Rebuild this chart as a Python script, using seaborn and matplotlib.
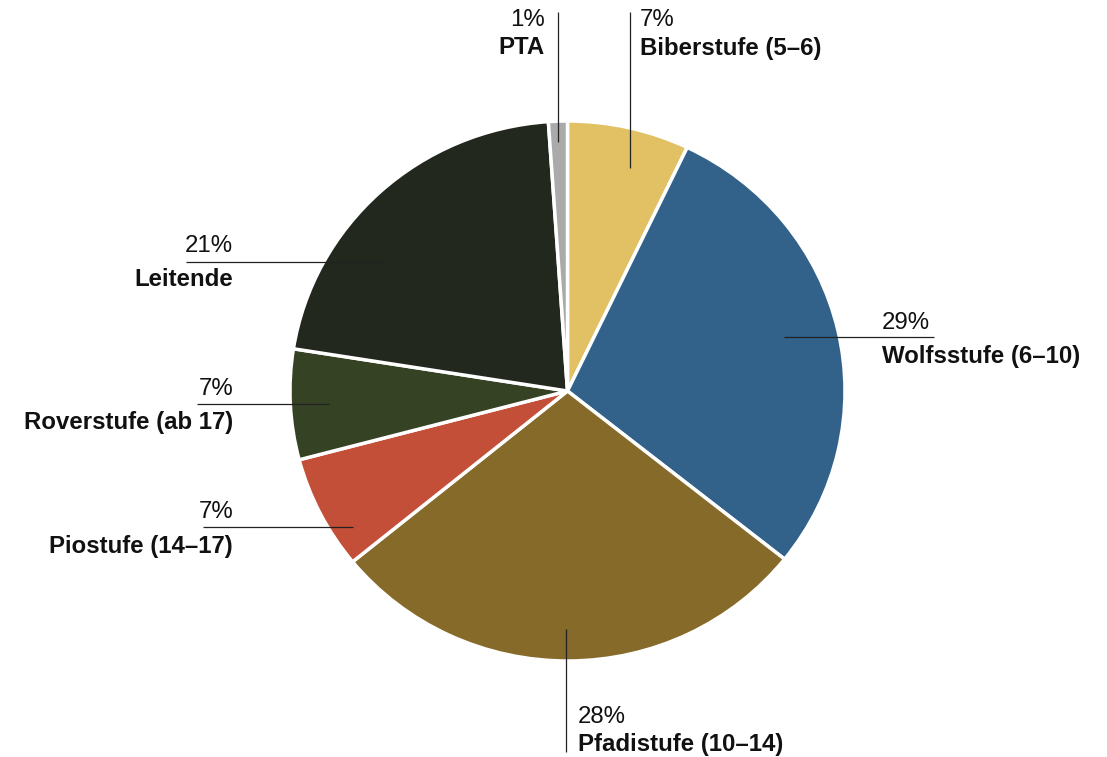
import matplotlib
matplotlib.use("Agg")
import matplotlib.pyplot as plt
import seaborn as sns

sns.set_theme(style="white")
plt.rcParams['font.family'] = ['Liberation Sans', 'DejaVu Sans']

categories = ["Biberstufe (5–6)", "Wolfsstufe (6–10)", "Pfadistufe (10–14)",
              "Piostufe (14–17)", "Roverstufe (ab 17)", "Leitende", "PTA"]
values = [7.1, 28.6, 28.4, 6.8, 6.6, 21.4, 1.1]
pct_labels = ["7%", "29%", "28%", "7%", "7%", "21%", "1%"]
colors = ["#E2C064", "#326289", "#866A2A", "#C44F38", "#354224", "#22281E", "#AAAAAA"]

W, H = 1107, 757
fig = plt.figure(figsize=(W / 100, H / 100), dpi=100)
ax = fig.add_axes([0, 0, 1, 1])

R = 277.5
k = 270.0 / 277.5  # vertical squash of the reference pie

def Y(p):
    return (H - p) / k

cx, cy = 567.5, Y(391)
ax.pie(values, colors=colors, startangle=90, counterclock=False,
       center=(cx, cy), radius=R, frame=False,
       wedgeprops=dict(edgecolor="white", linewidth=2.5))
ax.set_aspect("auto")
ax.set_xlim(0, W)
ax.set_ylim(0, H / k)
ax.axis("off")

# label layout: (line x0, y0, x1, y1, text x, pct y, name y, ha)
layout = {
    "PTA": (558, 12, 558, 142, 545, 20, 48, "right"),
    "Biberstufe (5–6)": (630, 12, 630, 168, 640, 20, 48, "left"),
    "Wolfsstufe (6–10)": (784, 337, 934, 337, 882, 323, 357, "left"),
    "Pfadistufe (10–14)": (566, 629, 566, 752, 578, 717, 745, "left"),
    "Leitende": (186, 262, 385, 262, 233, 246, 280, "right"),
    "Roverstufe (ab 17)": (197, 404, 329, 404, 233, 389, 423, "right"),
    "Piostufe (14–17)": (203, 527, 353, 527, 233, 512, 547, "right"),
}

fs = 17.3
for name, pct in zip(categories, pct_labels):
    x0, y0, x1, y1, tx, py, ny, ha = layout[name]
    ax.plot([x0, x1], [Y(y0), Y(y1)], color="#222222", lw=0.9, solid_capstyle="butt")
    ax.text(tx, Y(py), pct, ha=ha, va="center", fontsize=fs, color="#111111")
    ax.text(tx, Y(ny), name, ha=ha, va="center", fontsize=fs, fontweight="bold", color="#111111")

fig.savefig("out.png", dpi=100, facecolor="white")
